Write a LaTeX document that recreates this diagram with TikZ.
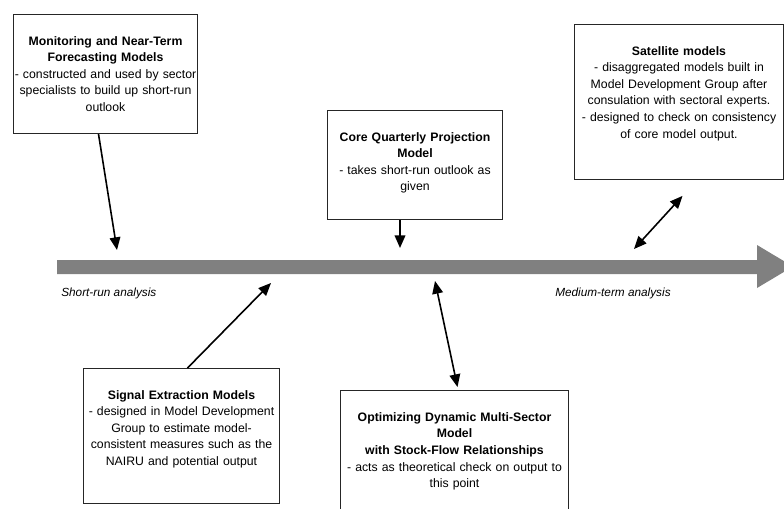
\documentclass[tikz,border=0pt]{standalone}
\usepackage{fontspec}
\setmainfont{Liberation Sans}
\usepackage{tikz}
\usetikzlibrary{arrows.meta,positioning,calc}
\definecolor{barGray}{RGB}{128,128,128}
\tikzset{
  modelbox/.style={draw=black!85, line width=0.75pt, fill=white, anchor=north west,
    align=center, inner xsep=0pt, inner ysep=16.5pt,
    font=\fontsize{9.2pt}{12.4pt}\selectfont},
  linkarr/.style={-{Triangle[length=9.5pt,width=8pt]}, line width=1.2pt},
  bothlink/.style={{Triangle[length=9.5pt,width=8pt]}-{Triangle[length=9.5pt,width=8pt]}, line width=1.2pt},
  phase/.style={anchor=west, inner sep=0pt, font=\itshape\fontsize{8.85pt}{10pt}\selectfont},
}

\begin{document}
\begin{tikzpicture}[x=0.75pt,y=-0.75pt]
    \useasboundingbox (0,0) rectangle (784,508);
    % time line
    \fill[barGray] (57,260) -- (757,260) -- (757,245) -- (793,266.5)
      -- (757,288) -- (757,274) -- (57,274) -- cycle;
    \node[phase] (short) at (61,293) {Short-run analysis};
    \node[phase] (medium) at (555,293) {Medium-term analysis};
    % boxes
    \node[modelbox, text width=138pt, text depth=49.6pt] (mon) at (13,14)
      {\textbf{Monitoring and Near-Term}\\ \textbf{Forecasting Models}\\
       - constructed and used by sector\\ specialists to build up short-run\\ outlook};
    \node[modelbox, text width=131.25pt, text depth=42pt] (core) at (327,110)
      {\textbf{Core Quarterly Projection}\\ \textbf{Model}\\
       - takes short-run outlook as\\ given};
    \node[modelbox, text width=156.75pt, text depth=76.5pt] (sat) at (574,24)
      {\textbf{Satellite models}\\ - disaggregated models built in\\
       Model Development Group after\\ consulation with sectoral experts.\\
       - designed to check on consistency\\ of core model output.};
    \node[modelbox, text width=147pt, text depth=61.5pt] (sig) at (83,368)
      {\textbf{Signal Extraction Models}\\ - designed in Model Development\\
       Group to estimate model-\\ consistent measures such as the\\
       NAIRU and potential output};
    \node[modelbox, text width=171pt, text depth=57.8pt] (opt) at (340,390)
      {\textbf{Optimizing Dynamic Multi-Sector}\\ \textbf{Model}\\
       \textbf{with Stock-Flow Relationships}\\
       - acts as theoretical check on output to\\ this point};
    % arrow ends on the time line
    \coordinate (monend) at (117,250);
    \coordinate (coreend) at (400,248);
    \coordinate (sigend) at (271,283);
    \coordinate (optend) at (435,281);
    \coordinate (satend) at (634,249);
    % links
    \draw[linkarr] ($(mon.south)+(-7,0)$) -- (monend);
    \draw[linkarr] ($(core.south west)+(73,0)$) -- (coreend);
    \draw[linkarr] ($(sig.north)+(6,0)$) -- (sigend);
    \draw[bothlink] ($(opt.north)+(3,-3)$) -- (optend);
    \draw[bothlink] ($(sat.south)+(3.5,16)$) -- (satend);
\end{tikzpicture}
\end{document}
